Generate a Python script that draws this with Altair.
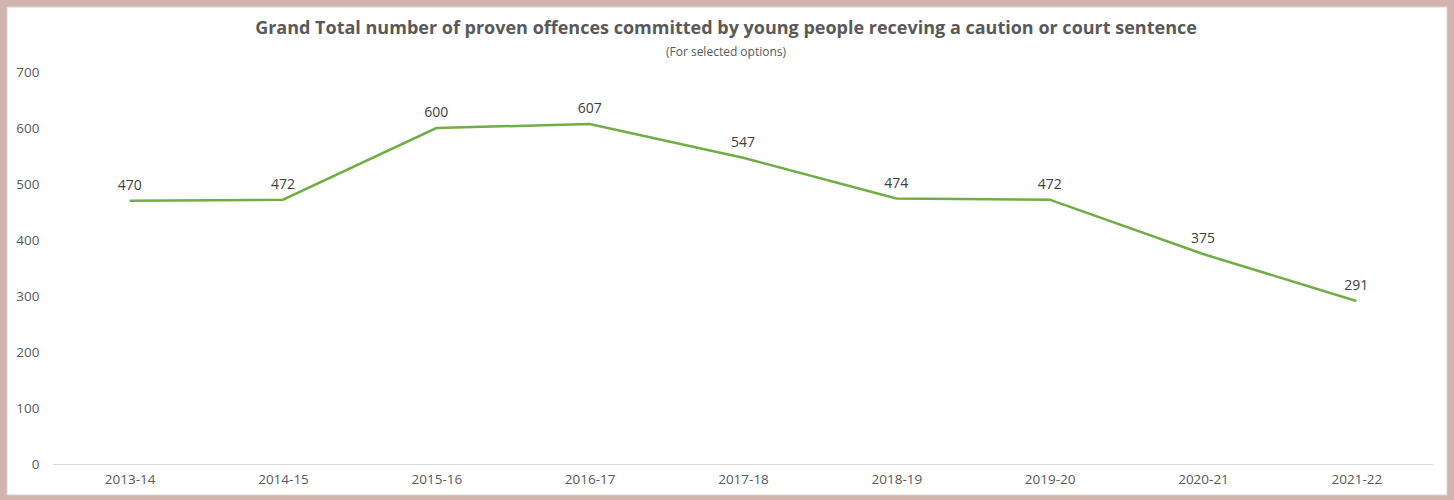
import altair as alt
import pandas as pd

years = ["2013-14", "2014-15", "2015-16", "2016-17", "2017-18",
         "2018-19", "2019-20", "2020-21", "2021-22"]
offences = [470, 472, 600, 607, 547, 474, 472, 375, 291]

df = pd.DataFrame({"year": years, "value": offences})

FONT = "Open Sans"
TXT = "#595959"

panel = alt.Chart(alt.Data(values=[{}])).mark_rect(
    fill="white", stroke="#d6d6d6", strokeWidth=1
).encode(
    x=alt.value(-46), x2=alt.value(1394), y=alt.value(-65), y2=alt.value(423)
)

base = alt.Chart(df).encode(
    x=alt.X("year:N", sort=years, title=None,
            scale=alt.Scale(paddingInner=0, paddingOuter=0),
            axis=alt.Axis(labelAngle=0, labelFont=FONT, labelFontSize=13.5,
                          labelColor=TXT, domainColor="#d9d9d9", ticks=False,
                          labelPadding=8, zindex=1)),
    y=alt.Y("value:Q", title=None,
            scale=alt.Scale(domain=[0, 700], nice=False),
            axis=alt.Axis(values=[0, 100, 200, 300, 400, 500, 600, 700],
                          grid=False, domain=False, ticks=False,
                          labelFont=FONT, labelFontSize=13.5, labelColor=TXT,
                          labelPadding=14, zindex=1)),
)

line = base.mark_line(color="#70AD47", strokeWidth=2.5)
labels = base.mark_text(dy=-15, font=FONT, fontSize=14, color="#404040").encode(
    text="value:Q"
)

chart = alt.layer(panel, line, labels).properties(
    width=1380,
    height=392,
    autosize=alt.AutoSizeParams(type="none"),
    padding={"left": 53, "top": 72, "right": 21, "bottom": 36},
    background="#d2b3ad",
    title=alt.TitleParams(
        "Grand Total number of proven offences committed by young people receving a caution or court sentence",
        subtitle="(For selected options)",
        font=FONT, fontSize=18, fontWeight="bold", color=TXT,
        subtitleFont=FONT, subtitleFontSize=12, subtitleColor=TXT,
        subtitlePadding=9, anchor="middle", frame="group", dx=-17, offset=-51,
        zindex=1,
    ),
).configure_view(stroke=None)

chart.save("out.html", embed_options={"renderer": "svg", "actions": False})
